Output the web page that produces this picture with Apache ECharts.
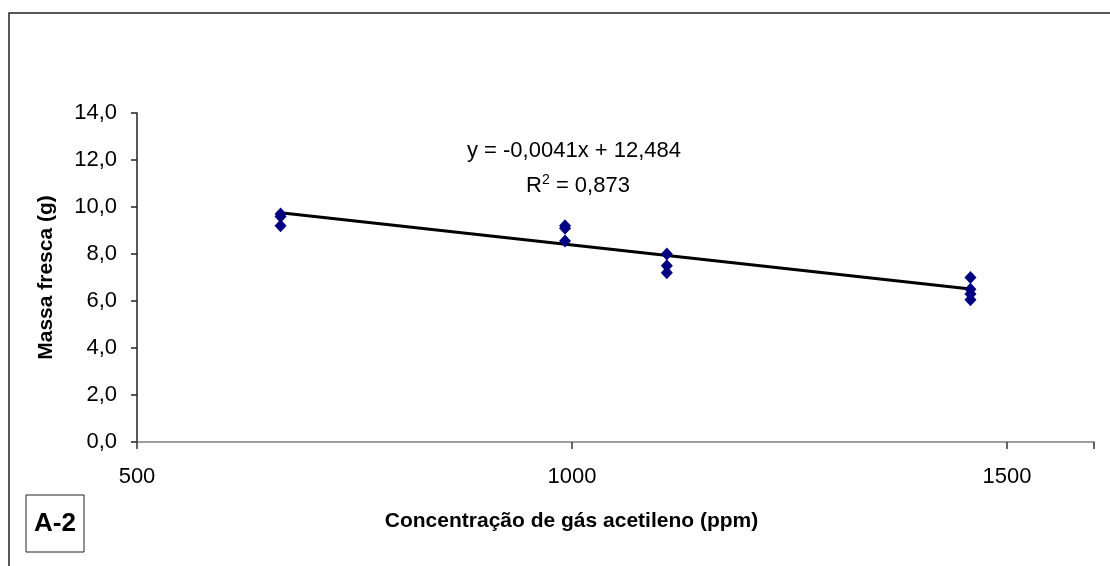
<!DOCTYPE html>
<html>
<head>
<meta charset="utf-8">
<script src="https://cdn.jsdelivr.net/npm/echarts@6/dist/echarts.min.js"></script>
<style>
  html, body { margin: 0; padding: 0; background: #fff; }
  #chart { width: 1110px; height: 566px; }
</style>
</head>
<body>
<div id="chart"></div>
<script>
// Acetylene concentration (ppm) of each sample and its fresh mass (g)
const concentrations = [665, 665, 665, 992, 992, 992, 1109, 1109, 1109, 1458, 1458, 1458, 1458];
const freshMass      = [9.7, 9.6, 9.2, 9.2, 9.1, 8.55, 8.0, 7.5, 7.2, 7.0, 6.5, 6.3, 6.05];

// Linear trend reported on the chart
const slope = -0.0041;
const intercept = 12.484;
const rSquared = '0,873';

// Axis ranges and tick steps
const xRange = [500, 1600, 500];
const yRange = [0, 14, 2];

const fmt = (v, d) => v.toFixed(d).replace('.', ',');

const points = concentrations.map((x, i) => [x, freshMass[i]]);
const xMin = Math.min(...concentrations);
const xMax = Math.max(...concentrations);
const trend = [[xMin, intercept + slope * xMin], [xMax, intercept + slope * xMax]];

const eqText = 'y = ' + fmt(slope, 4) + 'x + ' + fmt(intercept, 3);

const chart = echarts.init(document.getElementById('chart'));
const font = 'Liberation Sans, Arial, sans-serif';

chart.setOption({
  animation: false,
  backgroundColor: '#fff',
  grid: { left: 137, right: 16, top: 113, bottom: 124 },
  xAxis: {
    type: 'value',
    min: xRange[0], max: xRange[1], interval: xRange[2],
    name: 'Concentração de gás acetileno (ppm)',
    nameLocation: 'middle', nameGap: 69,
    // title sits under the 1000 tick rather than the axis midpoint
    nameTextStyle: { fontFamily: font, fontSize: 21, fontWeight: 'bold', color: '#000', padding: [0, 88, 0, 0] },
    axisLine: { lineStyle: { color: '#808080', width: 1.5 } },
    axisTick: { show: true, length: 7, lineStyle: { color: '#333', width: 1.5 } },
    axisLabel: { fontFamily: font, fontSize: 22, color: '#000', margin: 24,
      formatter: v => (v % 500 === 0 && v < 1600) ? String(v) : '' },
    splitLine: { show: false }
  },
  yAxis: {
    type: 'value',
    min: yRange[0], max: yRange[1], interval: yRange[2],
    name: 'Massa fresca (g)',
    nameLocation: 'middle', nameGap: 80, nameRotate: 90,
    nameTextStyle: { fontFamily: font, fontSize: 21, fontWeight: 'bold', color: '#000' },
    axisLine: { show: true, lineStyle: { color: '#222', width: 1.5 } },
    axisTick: { show: true, length: 6, lineStyle: { color: '#222', width: 1.5 } },
    axisLabel: { fontFamily: font, fontSize: 22, color: '#000', margin: 20, formatter: v => fmt(v, 1) },
    splitLine: { show: false }
  },
  series: [
    {
      type: 'line',
      data: trend,
      symbol: 'none',
      lineStyle: { color: '#000', width: 3 },
      z: 2
    },
    {
      type: 'scatter',
      data: points,
      symbol: 'diamond',
      symbolSize: [12, 13],
      itemStyle: { color: '#000080', opacity: 1 },
      z: 3
    }
  ],
  graphic: [
    {
      type: 'rect', z: -1,
      shape: { x: 9, y: 13, width: 1200, height: 600 },
      style: { fill: 'none', stroke: '#222', lineWidth: 1.5 }
    },
    {
      type: 'text', x: 574, y: 151,
      style: { text: eqText, font: '22px ' + font, fill: '#000', align: 'center', verticalAlign: 'middle' }
    },
    {
      type: 'text', x: 578, y: 185,
      style: {
        text: '{r|R}{s|2}{r| = ' + rSquared + '}',
        align: 'center', verticalAlign: 'middle',
        rich: {
          r: { fontFamily: font, fontSize: 22, color: '#000', verticalAlign: 'bottom' },
          s: { fontFamily: font, fontSize: 14, color: '#000', verticalAlign: 'bottom', padding: [0, 0, 9, 0] }
        }
      }
    },
    {
      type: 'rect',
      shape: { x: 26, y: 495, width: 58, height: 57 },
      style: { fill: '#fff', stroke: '#222', lineWidth: 1 }
    },
    {
      type: 'text', x: 55, y: 524,
      style: { text: 'A-2', font: 'bold 26px ' + font, fill: '#000', align: 'center', verticalAlign: 'middle' }
    }
  ]
});
</script>
</body>
</html>
